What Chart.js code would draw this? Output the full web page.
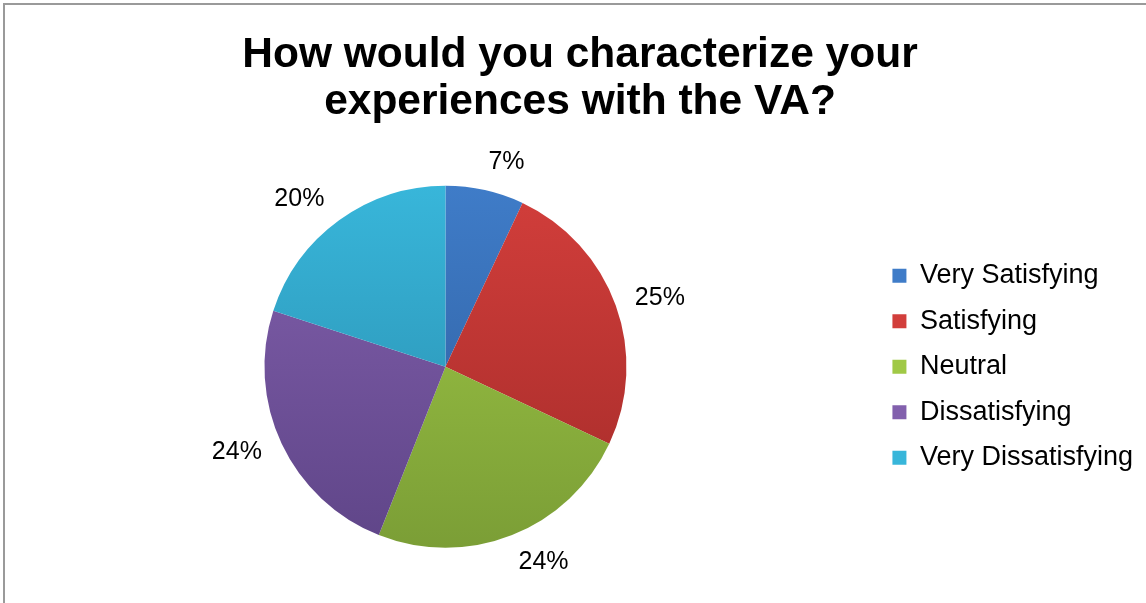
<!DOCTYPE html>
<html>
<head>
<meta charset="utf-8">
<script src="https://cdn.jsdelivr.net/npm/chart.js@4/dist/chart.umd.min.js"></script>
<style>
  html, body { margin: 0; padding: 0; background: #fff; }
  #frame {
    position: absolute; left: 3px; top: 3px; width: 1143px; height: 600px;
    border-left: 2px solid #9a9a9a; border-top: 2px solid #9a9a9a;
    box-sizing: border-box;
  }
  #wrap { position: absolute; left: 0; top: 0; width: 1146px; height: 603px; }
</style>
</head>
<body>
<div id="frame"></div>
<div id="wrap"><canvas id="pie"></canvas></div>
<script>
const categories = ["Very Satisfying", "Satisfying", "Neutral", "Dissatisfying", "Very Dissatisfying"];
const percentages = [7, 25, 24, 24, 20];
const titleLines = ["How would you characterize your", "experiences with the VA?"];

// light (top) and dark (bottom) shade of each slice
const topColors = ["#3f7cc8", "#d23e3b", "#a0c946", "#8260ad", "#38b6da"];
const bottomColors = ["#2d5c9b", "#a42b29", "#7b9e36", "#5f4588", "#2889aa"];
// Excel's "best fit" doesn't put the labels exactly on the mid angle
const labelNudgeDeg = [4, 2, -5, 3, -5];

const FONT = "'Liberation Sans', Arial, Helvetica, sans-serif";
const PIE_RADIUS = 181;

function sliceFill(ctx) {
    const chart = ctx.chart;
    const area = chart.chartArea;
    const i = ctx.dataIndex;
    if (!area) return topColors[i];
    const cy = (area.top + area.bottom) / 2;
    const g = chart.ctx.createLinearGradient(0, cy - PIE_RADIUS, 0, cy + PIE_RADIUS);
    g.addColorStop(0, topColors[i]);
    g.addColorStop(1, bottomColors[i]);
    return g;
}

// percentage labels sitting just outside each slice
const outsideLabels = {
    id: "outsideLabels",
    afterDatasetsDraw(chart) {
        const ctx = chart.ctx;
        const meta = chart.getDatasetMeta(0);
        ctx.save();
        ctx.font = "25px " + FONT;
        ctx.fillStyle = "#000";
        ctx.textAlign = "center";
        ctx.textBaseline = "middle";
        meta.data.forEach((arc, i) => {
            const p = arc.getProps(["x", "y", "startAngle", "endAngle", "outerRadius"], true);
            const mid = (p.startAngle + p.endAngle) / 2 + labelNudgeDeg[i] * Math.PI / 180;
            const txt = percentages[i] + "%";
            const w = ctx.measureText(txt).width;
            const c = Math.cos(mid), s = Math.sin(mid);
            const d = p.outerRadius + 17 + Math.abs(c) * w / 2 + Math.abs(s) * 11;
            ctx.fillText(txt, p.x + c * d, p.y + s * d);
        });
        ctx.restore();
    }
};

new Chart(document.getElementById("pie"), {
    type: "pie",
    data: {
        labels: categories,
        datasets: [{
            data: percentages,
            backgroundColor: sliceFill,
            borderWidth: 0,
            radius: PIE_RADIUS,
        }],
    },
    options: {
        responsive: true,
        maintainAspectRatio: false,
        animation: false,
        layout: { padding: { left: 17, right: 3, top: 0, bottom: 0 } },
        plugins: {
            title: {
                display: true,
                text: titleLines,
                color: "#000",
                font: { family: FONT, size: 42.5, weight: "bold", lineHeight: 1.1 },
                padding: { top: 32, bottom: 5 },
            },
            legend: {
                position: "right",
                fullSize: false,
                labels: {
                    color: "#000",
                    font: { family: FONT, size: 27 },
                    boxWidth: 14,
                    boxHeight: 14,
                    padding: 18.5,
                    generateLabels(chart) {
                        return categories.map((c, i) => ({
                            text: c,
                            fillStyle: topColors[i],
                            strokeStyle: bottomColors[i],
                            lineWidth: 0,
                            index: i,
                            hidden: false,
                        }));
                    },
                },
            },
            tooltip: { enabled: false },
        },
    },
    plugins: [outsideLabels],
});
</script>
</body>
</html>
